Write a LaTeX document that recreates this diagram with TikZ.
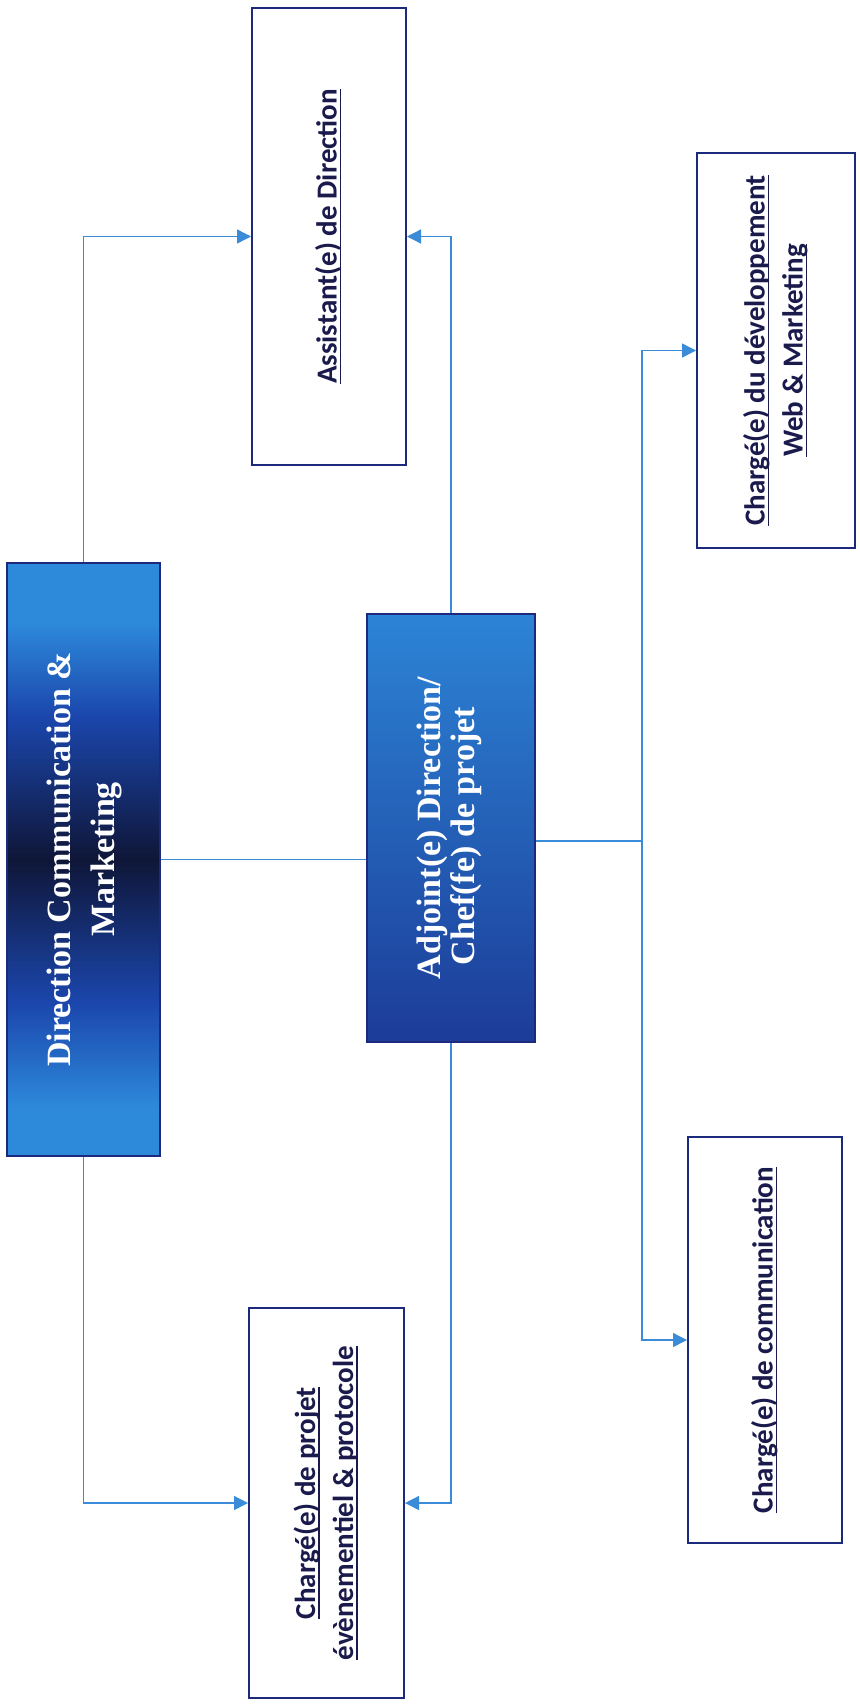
\documentclass[tikz,border=0pt]{standalone}
\usepackage{fontspec}
\setmainfont{Liberation Serif}
\newfontfamily\calibri{Carlito}
\usetikzlibrary{arrows.meta,calc}

\definecolor{boxline}{HTML}{1C2A7E}
\definecolor{linkblue}{HTML}{3A8BD8}
\definecolor{labelnavy}{HTML}{1A1A4C}
\definecolor{dirdark}{HTML}{0F1638}
\definecolor{dirmid}{HTML}{1B46AC}
\definecolor{dirlight}{HTML}{2D8ADB}
\definecolor{adjtop}{HTML}{2C84D6}
\definecolor{adjbot}{HTML}{1C3C98}

\newcommand\lineunder[1]{\setbox0\hbox{#1}\rlap{\rule[-2.4pt]{\wd0}{0.9pt}}\box0}

\pgfdeclareverticalshading{dirband}{100bp}{color(0bp)=(dirlight); color(29bp)=(dirlight); color(38bp)=(dirmid); color(50bp)=(dirdark); color(62bp)=(dirmid); color(70bp)=(dirlight); color(100bp)=(dirlight)}

\tikzset{
	headbox/.style={draw=boxline, line width=1pt, inner sep=0pt, text=white, font=\bfseries},
	staffbox/.style={draw=boxline, line width=1pt, fill=white, inner sep=0pt, text=labelnavy, font=\calibri\bfseries\fontsize{14.5}{19}\selectfont},
	link/.style={draw=linkblue, line width=0.7pt}
}

\begin{document}
\begin{tikzpicture}[x=0.5pt, y=-0.5pt, >={Triangle[length=7pt,width=7pt]}]
	\useasboundingbox (0,0) rectangle (859,1708);

	\node[headbox, shading=dirband, minimum width=76.5pt, minimum height=296.5pt] (dir) at (83.5,859.5)
		{\rotatebox{90}{\fontsize{17}{22}\selectfont\begin{tabular}{@{}c@{}}Direction Communication \&\\Marketing\end{tabular}}};
	\node[headbox, top color=adjtop, bottom color=adjbot, minimum width=84pt, minimum height=214pt] (adj) at (451,828)
		{\rotatebox{90}{\fontsize{17}{17}\selectfont\begin{tabular}{@{}l@{}}Adjoint(e) Direction/\\\hspace*{7pt}Chef(fe) de projet\end{tabular}}};

	\node[staffbox, minimum width=77pt, minimum height=228.5pt] (assist) at (329,236.5)
		{\rotatebox{90}{\begin{tabular}{@{}c@{}}\lineunder{Assistant(e) de Direction}\end{tabular}}};
	\node[staffbox, minimum width=77.5pt, minimum height=195pt] (event) at (326.5,1503)
		{\rotatebox{90}{\begin{tabular}{@{}c@{}}\lineunder{Chargé(e) de projet}\\\lineunder{évènementiel \& protocole}\end{tabular}}};
	\node[staffbox, minimum width=79pt, minimum height=197.5pt] (web) at (776,350.5)
		{\rotatebox{90}{\begin{tabular}{@{}c@{}}\lineunder{Chargé(e) du développement}\\\lineunder{Web \& Marketing}\end{tabular}}};
	\node[staffbox, minimum width=77pt, minimum height=203pt] (comm) at (765,1340)
		{\rotatebox{90}{\begin{tabular}{@{}c@{}}\lineunder{Chargé(e) de communication}\end{tabular}}};

	\coordinate (hub) at (642,841);

	\path[link,->] (dir.north) |- (assist.west);
	\path[link,->] (dir.south) |- (event.west);
	\path[link] (dir.east) -- (dir.east -| adj.west);
	\path[link,->] (adj.north) |- (assist.east);
	\path[link,->] (adj.south) |- (event.east);
	\path[link] (adj.east |- hub) -- (hub);
	\path[link,->] (hub) |- (web.west);
	\path[link,->] (hub) |- (comm.west);
\end{tikzpicture}
\end{document}
